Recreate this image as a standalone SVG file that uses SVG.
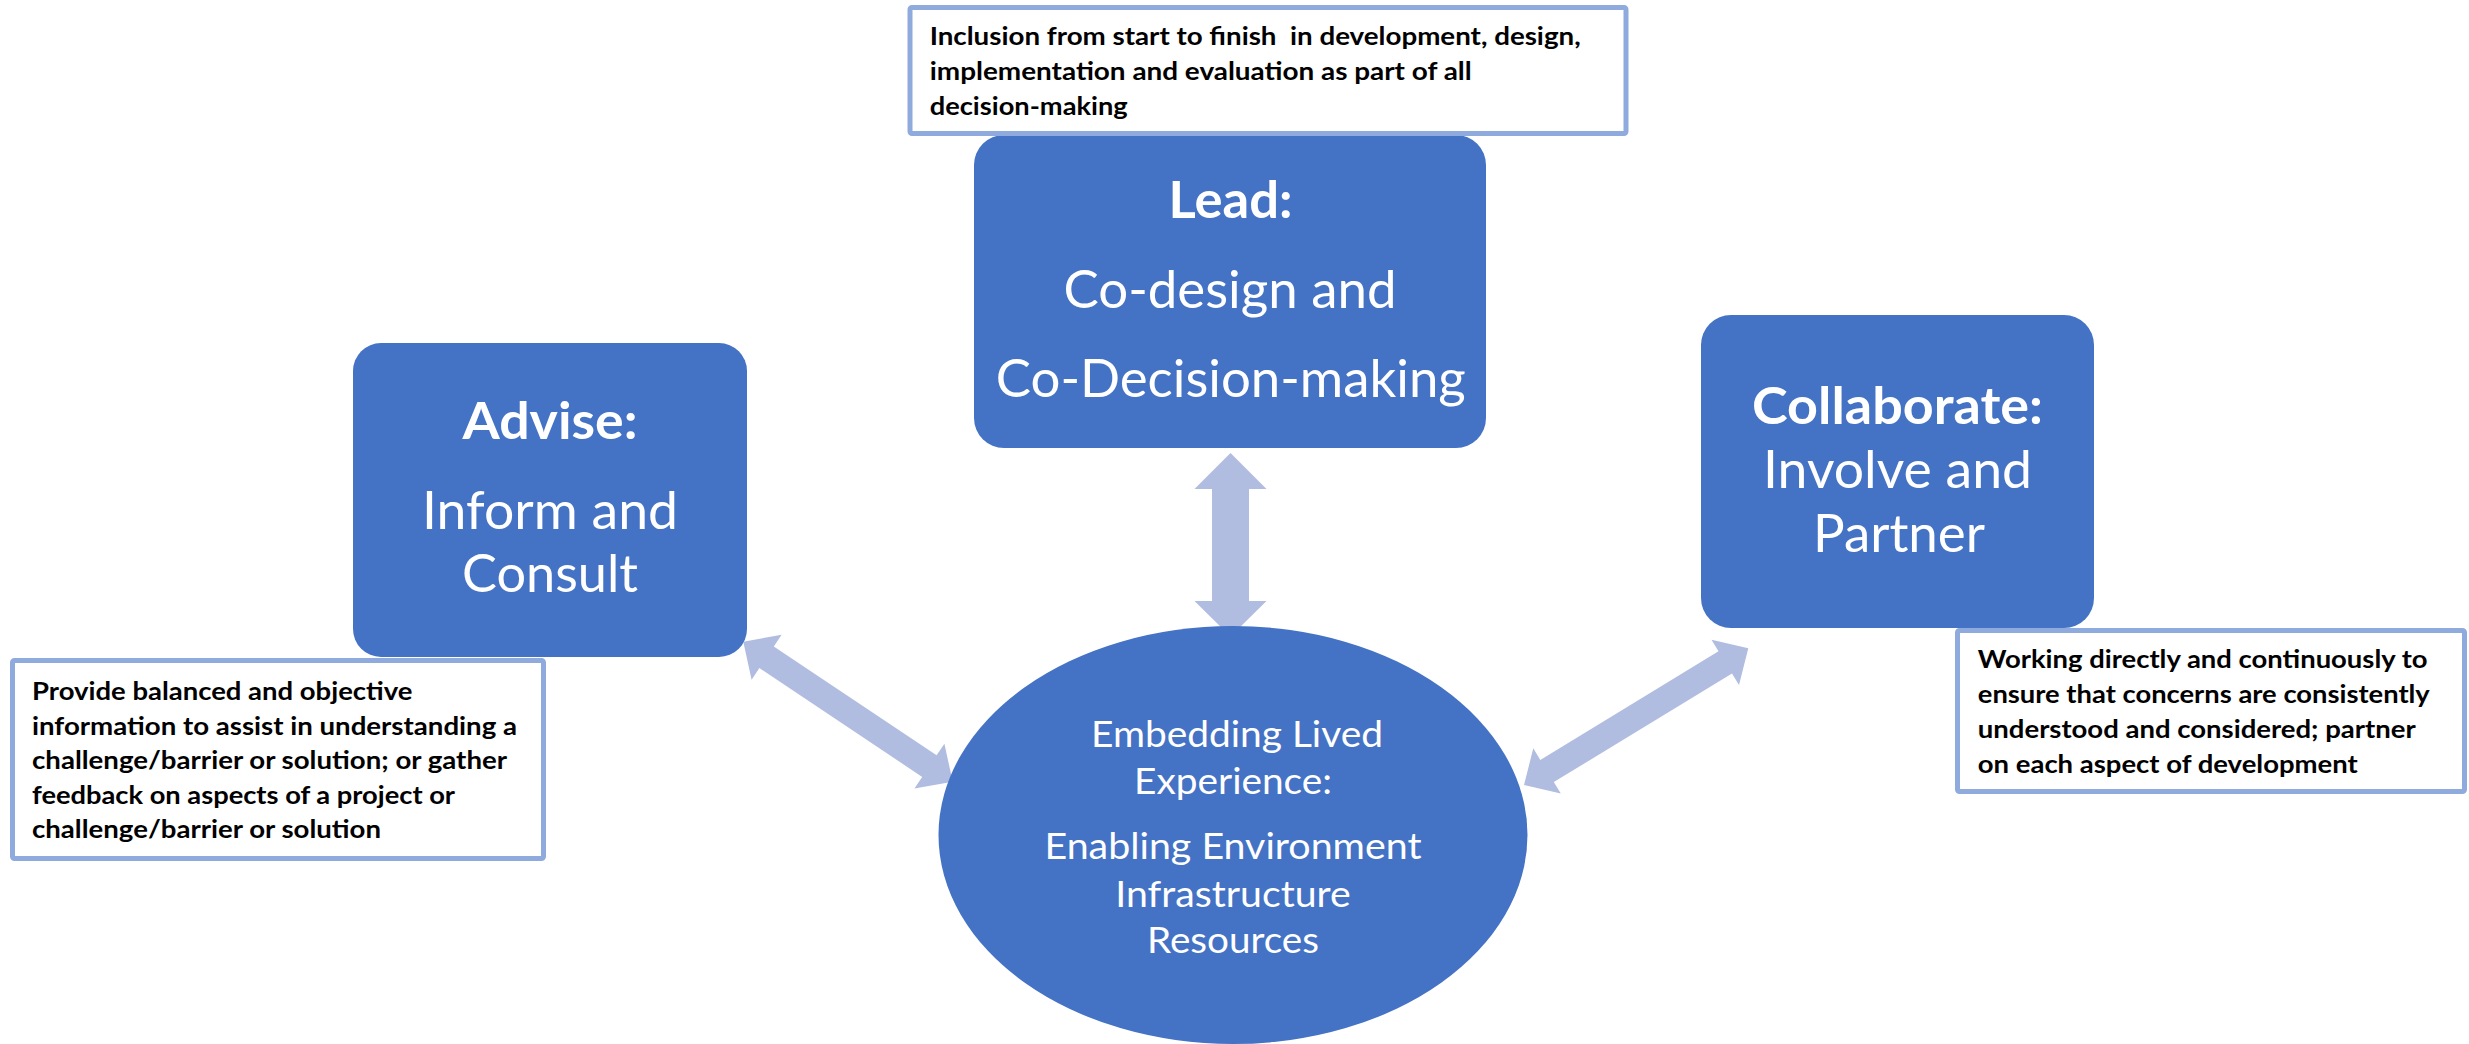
<svg xmlns="http://www.w3.org/2000/svg" width="2469" height="1044" viewBox="0 0 2469 1044">
<style>
.box{fill:#4472c4}
.note{fill:#ffffff;stroke:#8faadc;stroke-width:5}
.arrow{fill:#b0bde0}
.t{font-family:Lato,"Open Sans","Liberation Sans",sans-serif;fill:#ffffff;text-anchor:middle}
.tb{font-weight:bold;font-size:52px}
.tr{font-weight:normal;font-size:52px}
.te{font-weight:normal;font-size:36px}
.n{font-family:Lato,"Open Sans","Liberation Sans",sans-serif;font-weight:bold;font-size:24px;fill:#000000}
</style>
<rect width="2469" height="1044" fill="#ffffff"/>
<g id="connectors">
<polygon class="arrow" points="1230.5,453 1266.5,489 1249,489 1249,601 1266.5,601 1230.5,636.5 1194.5,601 1212,601 1212,489 1194.5,489"/>
<polygon class="arrow" points="743.3,641.7 781.6,634.8 773.8,646.5 936.6,755.3 944.4,743.7 952.7,781.7 914.4,788.6 922.2,776.9 759.4,668.1 751.6,679.8"/>
<polygon class="arrow" points="1524,785 1533.3,748.3 1540.3,759.9 1718.5,651.3 1711.5,639.7 1748.3,648.3 1739,685 1732,673.5 1553.8,782.1 1560.8,793.6"/>
</g>
<g id="lead">
<rect class="box" x="974" y="135" width="512" height="313" rx="30"/>
<text class="t tb" x="1230.5" y="218" textLength="124" lengthAdjust="spacingAndGlyphs">Lead:</text>
<text class="t tr" x="1230" y="308" textLength="333" lengthAdjust="spacingAndGlyphs">Co-design and</text>
<text class="t tr" x="1230.8" y="397" textLength="470" lengthAdjust="spacingAndGlyphs">Co-Decision-making</text>
</g>
<g id="lead-note">
<rect class="note" x="910" y="7.5" width="716" height="126" rx="2"/>
<text class="n" x="929.7" y="45" xml:space="preserve" textLength="651" lengthAdjust="spacingAndGlyphs">Inclusion from start to finish  in development, design,</text>
<text class="n" x="929.7" y="80" textLength="542" lengthAdjust="spacingAndGlyphs">implementation and evaluation as part of all</text>
<text class="n" x="929.7" y="115" textLength="198" lengthAdjust="spacingAndGlyphs">decision-making</text>
</g>
<g id="advise">
<rect class="box" x="353" y="343" width="394" height="314" rx="28"/>
<text class="t tb" x="550" y="439" textLength="175" lengthAdjust="spacingAndGlyphs">Advise:</text>
<text class="t tr" x="550" y="529" textLength="256" lengthAdjust="spacingAndGlyphs">Inform and</text>
<text class="t tr" x="550" y="592" textLength="176" lengthAdjust="spacingAndGlyphs">Consult</text>
</g>
<g id="advise-note">
<rect class="note" x="12.5" y="660.5" width="531" height="198" rx="2"/>
<text class="n" x="32" y="700" textLength="380.5" lengthAdjust="spacingAndGlyphs">Provide balanced and objective</text>
<text class="n" x="32" y="734.5" textLength="485" lengthAdjust="spacingAndGlyphs">information to assist in understanding a</text>
<text class="n" x="32" y="769" textLength="475" lengthAdjust="spacingAndGlyphs">challenge/barrier or solution; or gather</text>
<text class="n" x="32" y="803.5" textLength="423" lengthAdjust="spacingAndGlyphs">feedback on aspects of a project or</text>
<text class="n" x="32" y="838" textLength="349" lengthAdjust="spacingAndGlyphs">challenge/barrier or solution</text>
</g>
<g id="collaborate">
<rect class="box" x="1701" y="315" width="393" height="313" rx="30"/>
<text class="t tb" x="1897.5" y="424" textLength="291" lengthAdjust="spacingAndGlyphs">Collaborate:</text>
<text class="t tr" x="1897.5" y="488" textLength="269" lengthAdjust="spacingAndGlyphs">Involve and</text>
<text class="t tr" x="1899" y="552" textLength="172" lengthAdjust="spacingAndGlyphs">Partner</text>
</g>
<g id="collaborate-note">
<rect class="note" x="1957.5" y="630.5" width="507" height="161" rx="2"/>
<text class="n" x="1977.8" y="668" textLength="449.7" lengthAdjust="spacingAndGlyphs">Working directly and continuously to</text>
<text class="n" x="1977.8" y="703" textLength="452" lengthAdjust="spacingAndGlyphs">ensure that concerns are consistently</text>
<text class="n" x="1977.8" y="738" textLength="438" lengthAdjust="spacingAndGlyphs">understood and considered; partner</text>
<text class="n" x="1977.8" y="773" textLength="380" lengthAdjust="spacingAndGlyphs">on each aspect of development</text>
</g>
<g id="center">
<ellipse class="box" cx="1233" cy="835" rx="294.5" ry="209"/>
<text class="t te" x="1237" y="747" textLength="292" lengthAdjust="spacingAndGlyphs">Embedding Lived</text>
<text class="t te" x="1233" y="794" textLength="198" lengthAdjust="spacingAndGlyphs">Experience:</text>
<text class="t te" x="1233" y="858.6" textLength="377" lengthAdjust="spacingAndGlyphs">Enabling Environment</text>
<text class="t te" x="1233" y="906.8" textLength="235.5" lengthAdjust="spacingAndGlyphs">Infrastructure</text>
<text class="t te" x="1233" y="953" textLength="172" lengthAdjust="spacingAndGlyphs">Resources</text>
</g>
</svg>
